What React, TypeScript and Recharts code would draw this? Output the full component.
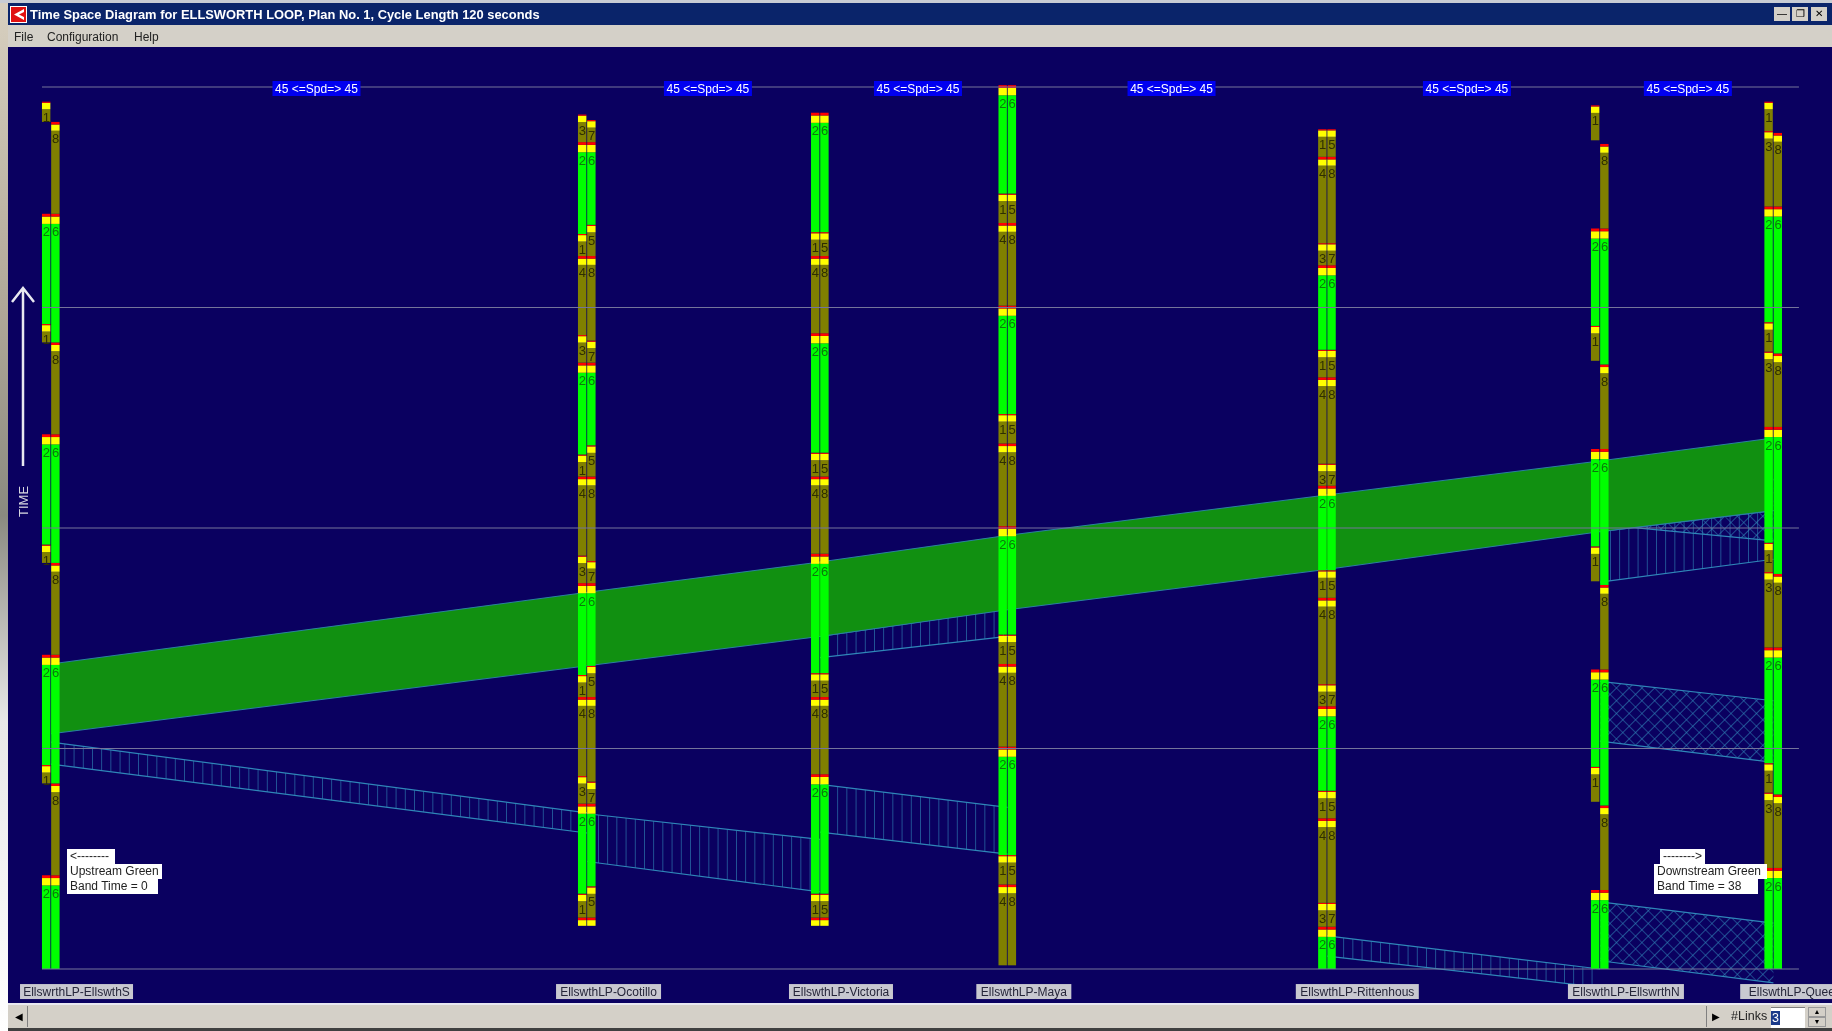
import React from "react";
import { ComposedChart, Bar, Area, Scatter, XAxis, YAxis, ReferenceLine } from "recharts";

// [phase, start sec, end sec], time runs upward
type Seg = [number, number, number];

const ellsworthSA: Seg[] = [[2, 0, 51], [1, 101, 111], [2, 111, 171], [1, 221, 231], [2, 231, 291], [1, 341, 351], [2, 351, 411], [1, 461, 472]];
const ellsworthSB: Seg[] = [[6, 0, 51], [8, 51, 101], [6, 101, 171], [8, 171, 221], [6, 221, 291], [8, 291, 341], [6, 341, 411], [8, 411, 461]];
const ocotilloA: Seg[] = [[4, 23.5, 28], [1, 28, 41], [2, 41, 90], [3, 90, 105], [4, 105, 148], [1, 148, 160], [2, 160, 210], [3, 210, 225], [4, 225, 268], [1, 268, 280], [2, 280, 330], [3, 330, 345], [4, 345, 388], [1, 388, 400], [2, 400, 450], [3, 450, 465]];
const ocotilloB: Seg[] = [[8, 23.5, 28], [5, 28, 45], [6, 45, 90], [7, 90, 102], [8, 102, 148], [5, 148, 165], [6, 165, 210], [7, 210, 222], [8, 222, 268], [5, 268, 285], [6, 285, 330], [7, 330, 342], [8, 342, 388], [5, 388, 405], [6, 405, 450], [7, 450, 462]];
const victoriaA: Seg[] = [[4, 23.5, 28], [1, 28, 41], [2, 41, 106], [4, 106, 148], [1, 148, 161], [2, 161, 226], [4, 226, 268], [1, 268, 281], [2, 281, 346], [4, 346, 388], [1, 388, 401], [2, 401, 466]];
const victoriaB: Seg[] = [[8, 23.5, 28], [5, 28, 41], [6, 41, 106], [8, 106, 148], [5, 148, 161], [6, 161, 226], [8, 226, 268], [5, 268, 281], [6, 281, 346], [8, 346, 388], [5, 388, 401], [6, 401, 466]];
const mayaA: Seg[] = [[4, 2, 46], [1, 46, 62], [2, 62, 121], [4, 121, 166], [1, 166, 182], [2, 182, 241], [4, 241, 286], [1, 286, 302], [2, 302, 361], [4, 361, 406], [1, 406, 422], [2, 422, 481]];
const mayaB: Seg[] = [[8, 2, 46], [5, 46, 62], [6, 62, 121], [8, 121, 166], [5, 166, 182], [6, 182, 241], [8, 241, 286], [5, 286, 302], [6, 302, 361], [8, 361, 406], [5, 406, 422], [6, 422, 481]];
const rittenhouseA: Seg[] = [[2, 0, 23], [3, 23, 36], [4, 36, 82], [1, 82, 97], [2, 97, 143], [3, 143, 155], [4, 155, 202], [1, 202, 217], [2, 217, 263], [3, 263, 275], [4, 275, 322], [1, 322, 337], [2, 337, 383], [3, 383, 395], [4, 395, 442], [1, 442, 457]];
const rittenhouseB: Seg[] = [[6, 0, 23], [7, 23, 36], [8, 36, 82], [5, 82, 97], [6, 97, 143], [7, 143, 155], [8, 155, 202], [5, 202, 217], [6, 217, 263], [7, 263, 275], [8, 275, 322], [5, 322, 337], [6, 337, 383], [7, 383, 395], [8, 395, 442], [5, 442, 457]];
const ellsworthNA: Seg[] = [[2, 0, 43], [1, 91, 110], [2, 110, 163], [1, 211, 230], [2, 230, 283], [1, 331, 350], [2, 350, 403], [1, 451, 470]];
const ellsworthNB: Seg[] = [[6, 0, 43], [8, 43, 89], [6, 89, 163], [8, 163, 209], [6, 209, 283], [8, 283, 329], [6, 329, 403], [8, 403, 449]];
const queenA: Seg[] = [[2, 0, 55], [3, 55, 96], [1, 96, 112], [2, 112, 175], [3, 175, 216], [1, 216, 232], [2, 232, 295], [3, 295, 336], [1, 336, 352], [2, 352, 415], [3, 415, 456], [1, 456, 472]];
const queenB: Seg[] = [[6, 0, 55], [8, 55, 95], [6, 95, 175], [8, 175, 215], [6, 215, 295], [8, 295, 335], [6, 335, 415], [8, 415, 455]];

// distance along the corridor, feet
const distances = [0, 2562, 3676, 4572, 6100, 7404, 8233];
const [dS, dO, dV, dM, dR, dN, dQ] = distances;
const rings: [number, Seg[]][] = [
  [dS - 22, ellsworthSA], [dS + 22, ellsworthSB],
  [dO - 22, ocotilloA], [dO + 22, ocotilloB],
  [dV - 22, victoriaA], [dV + 22, victoriaB],
  [dM - 22, mayaA], [dM + 22, mayaB],
  [dR - 22, rittenhouseA], [dR + 22, rittenhouseB],
  [dN - 22, ellsworthNA], [dN + 22, ellsworthNB],
  [dQ - 22, queenA], [dQ + 22, queenB],
];

// green through band, [low, high] seconds at each intersection
const throughBand = [
  { x: dS, range: [128, 166] }, { x: dO, range: [165, 205] }, { x: dV, range: [181, 221.5] }, { x: dM, range: [195.5, 236] },
  { x: dR, range: [217.5, 258] }, { x: dN, range: [238, 276.5] }, { x: dQ, range: [249.5, 289] },
];

const upBandSO = [{ x: dS, range: [111.5, 123.5] }, { x: dO, range: [74, 85] }];
const upBandOV = [{ x: dO, range: [58.5, 84.5] }, { x: dV, range: [42, 70.5] }];
const upBandVM = [{ x: dV, range: [74.5, 100.5] }, { x: dM, range: [62.5, 88] }];
const upBandRN = [{ x: dR, range: [7, 18] }, { x: dN, range: [-10, 0] }];
const riseBandVM = [{ x: dV, range: [169.5, 181] }, { x: dM, range: [181, 196] }];
const riseBandNQ = [{ x: dN, range: [210.5, 238] }, { x: dQ, range: [223, 249.5] }];
const crossBandNQ1 = [{ x: dN, range: [242, 275] }, { x: dQ, range: [233, 266.5] }];
const crossBandNQ2 = [{ x: dN, range: [124, 156.5] }, { x: dQ, range: [112.5, 146] }];
const crossBandNQ3 = [{ x: dN, range: [4.5, 36.5] }, { x: dQ, range: [-7.5, 25] }];

const cycleLines = [0, 120, 240, 360, 480];
const speedLabels = [1269, 3140, 4144, 5356, 6768, 7824].map((x) => ({ x, y: 480, text: "45 <=Spd=> 45" }));
const nameLabels = [
  { x: 122, y: -12, text: "EllswrthLP-EllswthS" },
  { x: 2665, y: -12, text: "EllswthLP-Ocotillo" },
  { x: 3776, y: -12, text: "EllswthLP-Victoria" },
  { x: 4650, y: -12, text: "EllswthLP-Maya" },
  { x: 6244, y: -12, text: "EllswthLP-Rittenhous" },
  { x: 7528, y: -12, text: "EllswthLP-EllswrthN" },
  { x: 8337, y: -12, text: "EllswthLP-Queen" },
];

const FONT = "'Liberation Sans', Arial, sans-serif";
const isGreen = (p: number) => p === 2 || p === 6;
const clearance = (p: number) => {
  if (p === 2 || p === 6) return [4, 1.5];
  if (p === 4 || p === 8) return [3.4, 1.4];
  return [3.5, 0.6];
};

const barRows: { x: number; range: number[]; color: string }[] = [];
const digitRows: { x: number; y: number; text: string; green: boolean }[] = [];
rings.forEach(([x, segs]) => {
  segs.forEach(([phase, start, end]) => {
    const [yel, red] = clearance(phase);
    const bodyEnd = end - yel - red;
    if (bodyEnd > start) {
      barRows.push({ x, range: [start, bodyEnd], color: isGreen(phase) ? "#00ff00" : "#808000" });
      digitRows.push({ x, y: bodyEnd, text: String(phase), green: isGreen(phase) });
    }
    barRows.push({ x, range: [Math.max(start, bodyEnd), end - red], color: "#ffff00" });
    barRows.push({ x, range: [end - red, end], color: "#ff0000" });
  });
});

// recharts narrows the bars on a number axis, so keep its centre and set the width here
function PhaseBar({ x, y, width, height, payload }: any) {
  return <rect x={x + width / 2 - 4.2} y={y} width={8.4} height={height} fill={payload.color} />;
}

function SpeedTag({ cx, cy, payload }: any) {
  return (
    <g>
      <rect x={cx - 44} y={cy - 6} width={88} height={15} fill="#0000f0" />
      <text x={cx} y={cy + 6} textAnchor="middle" fontFamily={FONT} fontSize={12} fill="#ffffff">{payload.text}</text>
    </g>
  );
}

const nameWidths: Record<string, number> = {
  "EllswrthLP-EllswthS": 113, "EllswthLP-Ocotillo": 105, "EllswthLP-Victoria": 104, "EllswthLP-Maya": 95,
  "EllswthLP-Rittenhous": 123, "EllswthLP-EllswrthN": 116, "EllswthLP-Queen": 110,
};

function NameTag({ cx, cy, payload }: any) {
  const w = nameWidths[payload.text];
  return (
    <g>
      <rect x={cx - w / 2} y={cy - 7} width={w} height={15} fill="#c8c8d0" />
      <text x={cx} y={cy + 5} textAnchor="middle" fontFamily={FONT} fontSize={12} fill="#26263a">{payload.text}</text>
    </g>
  );
}

function Digit({ cx, cy, payload }: any) {
  return (
    <text x={cx} y={cy + 12.5} textAnchor="middle" fontFamily={FONT} fontSize={13} fill={payload.green ? "#0a7a0a" : "#2e2e00"}>
      {payload.text}
    </text>
  );
}

const hatch = "#2f86b8";

function Box({ l, t, w, h, bg, children, style }: any) {
  return <div style={{ position: "absolute", left: l, top: t, width: w, height: h, background: bg, ...style }}>{children}</div>;
}

function Note({ l, t, w, text }: any) {
  return (
    <div style={{ position: "absolute", left: l, top: t, width: w, height: 15, background: "#fff", color: "#222", font: `12px ${FONT}`, lineHeight: "15px", paddingLeft: 3, boxSizing: "border-box", whiteSpace: "nowrap" }}>
      {text}
    </div>
  );
}

export default function App() {
  return (
    <div style={{ position: "fixed", left: 0, top: 0, width: 1832, height: 1031, overflow: "hidden", background: "#d4d0c8", filter: "blur(0.4px)" }}>
      <Box l={0} t={0} w={8} h={1031} bg="linear-gradient(#d8d0c0, #b0a898 30%, #8a8a80 50%, #e8e8e8 70%, #ffffff)" />
      <Box l={0} t={0} w={1832} h={3} bg="#c8ccd4" />
      <Box l={8} t={3} w={1824} h={22} bg="#0a246a" />
      <svg style={{ position: "absolute", left: 10, top: 6 }} width={17} height={17}>
        <rect width={17} height={17} fill="#fff" />
        <rect x={1} y={1} width={15} height={15} fill="#e01010" />
        <path d="M14 3L4 8.5L14 14V11L9 8.5L14 6Z" fill="#fff" />
      </svg>
      <div style={{ position: "absolute", left: 30, top: 7, color: "#fff", font: `bold 12.9px ${FONT}`, whiteSpace: "nowrap" }}>
        Time Space Diagram for ELLSWORTH LOOP, Plan No. 1, Cycle Length 120 seconds
      </div>
      {[["—", 1774], ["❐", 1792], ["✕", 1811]].map(([g, l]) => (
        <Box key={g as string} l={l} t={7} w={16} h={14} bg="#d4d0c8" style={{ font: `10px ${FONT}`, textAlign: "center", color: "#000", lineHeight: "14px" }}>{g}</Box>
      ))}
      <Box l={8} t={25} w={1824} h={22} bg="#d4d0c8" />
      {[["File", 14], ["Configuration", 47], ["Help", 134]].map(([t, l]) => (
        <div key={t as string} style={{ position: "absolute", left: l as number, top: 30, font: `12px ${FONT}`, color: "#222" }}>{t}</div>
      ))}
      <Box l={8} t={47} w={1824} h={956} bg="#0a0060" />

      <div style={{ position: "absolute", left: 0, top: 0 }}>
        <ComposedChart width={1832} height={1031} data={barRows} margin={{ top: 0, right: 0, bottom: 0, left: 0 }}>
          <defs>
            <pattern id="vhatch" width={9.2} height={10} patternUnits="userSpaceOnUse">
              <path d="M0 0V10" stroke={hatch} strokeWidth={1.2} />
            </pattern>
            <pattern id="xhatch" width={9} height={9} patternUnits="userSpaceOnUse" patternTransform="rotate(45)">
              <path d="M0 0V9M0 0H9" stroke={hatch} strokeWidth={1.2} />
            </pattern>
          </defs>
          <XAxis dataKey="x" type="number" hide domain={[-243.8, 8513]} />
          <YAxis type="number" hide domain={[-33.74, 527.35]} />
          {cycleLines.map((t) => (
            <ReferenceLine key={t} segment={[{ x: -43, y: t }, { x: 8355, y: t }]} stroke="#74749a" strokeWidth={1} />
          ))}
          {[
            { d: upBandSO, f: "vhatch" }, { d: upBandOV, f: "vhatch" }, { d: upBandVM, f: "vhatch" }, { d: upBandRN, f: "vhatch" },
            { d: riseBandVM, f: "vhatch" }, { d: crossBandNQ1, f: "xhatch" }, { d: riseBandNQ, f: "vhatch" },
            { d: crossBandNQ2, f: "xhatch" }, { d: crossBandNQ3, f: "xhatch" },
          ].map((b, i) => (
            <Area key={i} data={b.d} dataKey="range" type="linear" stroke={hatch} strokeWidth={1.2} fill={`url(#${b.f})`} fillOpacity={1} dot={false} activeDot={false} isAnimationActive={false} legendType="none" />
          ))}
          <Area data={throughBand} dataKey="range" type="linear" stroke="#2a80a0" strokeWidth={1} fill="#119011" fillOpacity={1} dot={false} activeDot={false} isAnimationActive={false} legendType="none" />
          <Bar dataKey="range" barSize={8} shape={PhaseBar} isAnimationActive={false} legendType="none" />
          <Scatter data={digitRows} dataKey="y" shape={Digit} isAnimationActive={false} legendType="none" />
          <Scatter data={speedLabels} dataKey="y" shape={SpeedTag} isAnimationActive={false} legendType="none" />
          <Scatter data={nameLabels} dataKey="y" shape={NameTag} isAnimationActive={false} legendType="none" />
        </ComposedChart>
      </div>

      <svg style={{ position: "absolute", left: 8, top: 280 }} width={32} height={260}>
        <path d="M15 8V186M4 22L15 8L26 22" stroke="#e8e8f0" strokeWidth={2.5} fill="none" />
        <text x={0} y={0} transform="translate(20,237) rotate(-90)" fontFamily={FONT} fontSize={13} fill="#d8d8e0">TIME</text>
      </svg>

      <Note l={67} t={849} w={48} text="<--------" />
      <Note l={67} t={864} w={95} text="Upstream Green" />
      <Note l={67} t={879} w={91} text="Band Time = 0" />
      <Note l={1660} t={849} w={45} text="-------->" />
      <Note l={1654} t={864} w={113} text="Downstream Green" />
      <Note l={1654} t={879} w={104} text="Band Time = 38" />

      <Box l={8} t={1003} w={1824} h={2} bg="#e8e8f0" />
      <Box l={8} t={1005} w={1824} h={23} bg="#d4d0c8" />
      <Box l={8} t={1028} w={1824} h={3} bg="#404040" />
      <Box l={10} t={1006} w={17} h={21} bg="#d4d0c8" style={{ font: `10px ${FONT}`, textAlign: "center", lineHeight: "21px", borderRight: "1px solid #808080" }}>◀</Box>
      <Box l={1706} t={1006} w={17} h={21} bg="#d4d0c8" style={{ font: `10px ${FONT}`, textAlign: "center", lineHeight: "21px", borderLeft: "1px solid #808080" }}>▶</Box>
      <div style={{ position: "absolute", left: 1731, top: 1009, font: `12.5px ${FONT}`, color: "#222" }}>#Links</div>
      <Box l={1771} t={1007} w={34} h={20} bg="#fff" style={{ font: `12.5px ${FONT}`, lineHeight: "20px", color: "#fff", borderTop: "1px solid #808080" }}>
        <span style={{ background: "#1a3a8a", padding: "0 1px" }}>3</span>
      </Box>
      <Box l={1808} t={1007} w={18} h={10} bg="#d4d0c8" style={{ font: `7px ${FONT}`, textAlign: "center", border: "1px solid #999", boxSizing: "border-box" }}>▲</Box>
      <Box l={1808} t={1017} w={18} h={10} bg="#d4d0c8" style={{ font: `7px ${FONT}`, textAlign: "center", border: "1px solid #999", boxSizing: "border-box" }}>▼</Box>
    </div>
  );
}
